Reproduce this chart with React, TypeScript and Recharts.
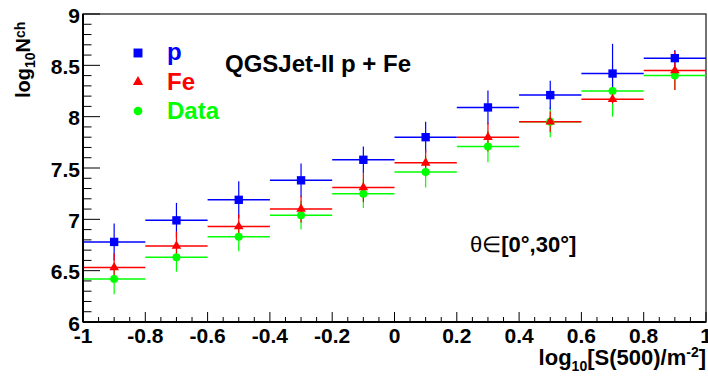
import {
  ScatterChart,
  Scatter,
  XAxis,
  YAxis,
  ErrorBar,
  ReferenceArea,
  Legend,
  Symbols,
} from "recharts";

// bins in log10[S(500)]
const binCenters = [-0.9, -0.7, -0.5, -0.3, -0.1, 0.1, 0.3, 0.5, 0.7, 0.9];
const binHalfWidth = 0.1;

// proton simulation
const pValues = [6.78, 6.99, 7.19, 7.38, 7.58, 7.8, 8.09, 8.21, 8.42, 8.57];
const pErrors = [0.18, 0.17, 0.18, 0.165, 0.13, 0.15, 0.165, 0.14, 0.29, 0.08];

// iron simulation
const feValues = [6.53, 6.74, 6.93, 7.1, 7.31, 7.55, 7.8, 7.95, 8.17, 8.45];
const feErrors = [0.14, 0.14, 0.12, 0.13, 0.14, 0.13, 0.14, 0.1, 0.04, 0.19];

// measured
const dataValues = [6.42, 6.63, 6.83, 7.04, 7.25, 7.46, 7.71, 7.95, 8.25, 8.4];
const dataErrors = [0.15, 0.14, 0.14, 0.14, 0.14, 0.15, 0.155, 0.15, 0.25, 0.14];

const xDomain = [-1, 1];
const yDomain = [6, 9];
const xMajorTicks = [-1, -0.8, -0.6, -0.4, -0.2, 0, 0.2, 0.4, 0.6, 0.8, 1];
const xTickLabels = ["-1", "-0.8", "-0.6", "-0.4", "-0.2", "0", "0.2", "0.4", "0.6", "0.8", "1"];
const yMajorTicks = [6, 6.5, 7, 7.5, 8, 8.5, 9];
const yTickLabels = ["6", "6.5", "7", "7.5", "8", "8.5", "9"];

const BLUE = "#0000ff";
const RED = "#ff0000";
const GREEN = "#00ff00";
const FONT = "'Liberation Sans', Arial, Helvetica, sans-serif";

const makePoints = (vals: number[], errs: number[]) =>
  binCenters.map((x, i) => ({ x, y: vals[i], ex: binHalfWidth, ey: errs[i] }));

const pPoints = makePoints(pValues, pErrors);
const fePoints = makePoints(feValues, feErrors);
const dataPoints = makePoints(dataValues, dataErrors);

// minor ticks: 4 divisions on x, 5 on y
const xAllTicks: number[] = [];
for (let i = 0; i <= 40; i++) xAllTicks.push(Math.round((-1 + i * 0.05) * 100) / 100);
const yAllTicks: number[] = [];
for (let i = 0; i <= 30; i++) yAllTicks.push(Math.round((6 + i * 0.1) * 10) / 10);

const majorIndex = (list: number[], v: number) =>
  list.findIndex((m) => Math.abs(m - v) < 1e-6);

const XTick = (props: any) => {
  const { x, y, payload } = props;
  const idx = majorIndex(xMajorTicks, payload.value);
  const major = idx >= 0;
  return (
    <g>
      <line x1={x} x2={x} y1={y} y2={y - (major ? 10 : 5)} stroke="#000" strokeWidth={1} />
      {major && (
        <text x={x} y={y + 21} textAnchor="middle" fontFamily={FONT} fontWeight="bold" fontSize={21} fill="#000">
          {xTickLabels[idx]}
        </text>
      )}
    </g>
  );
};

const YTick = (props: any) => {
  const { x, y, payload } = props;
  const idx = majorIndex(yMajorTicks, payload.value);
  const major = idx >= 0;
  return (
    <g>
      <line x1={x} x2={x + (major ? 17 : 8.5)} y1={y} y2={y} stroke="#000" strokeWidth={1} />
      {major && (
        <text x={x - 3} y={y + 8.5} textAnchor="end" fontFamily={FONT} fontWeight="bold" fontSize={21} fill="#000">
          {yTickLabels[idx]}
        </text>
      )}
    </g>
  );
};

const markerShape = (type: "square" | "triangle" | "circle", size: number, color: string) =>
  (props: any) => <Symbols cx={props.cx} cy={props.cy} type={type} size={size} fill={color} />;

const legendRows = [
  { name: "p", type: "square" as const, color: BLUE, size: 80 },
  { name: "Fe", type: "triangle" as const, color: RED, size: 45 },
  { name: "Data", type: "circle" as const, color: GREEN, size: 60 },
];

const LegendBox = () => (
  <svg width={130} height={100}>
    {legendRows.map((r, i) => (
      <g key={r.name}>
        <Symbols cx={18} cy={18 + i * 29} type={r.type} size={r.size} fill={r.color} />
        <text x={47} y={25 + i * 29.5} fontFamily={FONT} fontWeight="bold" fontSize={24} fill={r.color}>
          {r.name}
        </text>
      </g>
    ))}
  </svg>
);

export default function App() {
  return (
    <div style={{ position: "absolute", left: 0, top: 0, width: 708, height: 381, background: "#fff" }}>
      <ScatterChart width={708} height={381} margin={{ top: 14, right: 2, bottom: 58, left: 82 }}>
        <ReferenceArea
          x1={xDomain[0]}
          x2={xDomain[1]}
          y1={yDomain[0]}
          y2={yDomain[1]}
          fill="none"
          fillOpacity={0}
          stroke="#444"
          strokeWidth={1.5}
        />
        <XAxis
          type="number"
          dataKey="x"
          domain={xDomain}
          allowDataOverflow
          ticks={xAllTicks}
          interval={0}
          height={1}
          tickSize={0}
          tickMargin={0}
          tickLine={false}
          axisLine={{ stroke: "#000", strokeWidth: 2 }}
          tick={<XTick />}
        />
        <YAxis
          type="number"
          dataKey="y"
          domain={yDomain}
          allowDataOverflow
          ticks={yAllTicks}
          interval={0}
          width={1}
          tickSize={0}
          tickMargin={0}
          tickLine={false}
          axisLine={{ stroke: "#000", strokeWidth: 2 }}
          tick={<YTick />}
        />
        <Scatter data={dataPoints} isAnimationActive={false} shape={markerShape("circle", 50, GREEN)}>
          <ErrorBar dataKey="ex" direction="x" width={0} stroke={GREEN} strokeWidth={1.5} isAnimationActive={false} />
          <ErrorBar dataKey="ey" direction="y" width={0} stroke={GREEN} strokeWidth={1.2} isAnimationActive={false} />
        </Scatter>
        <Scatter data={pPoints} isAnimationActive={false} shape={markerShape("square", 70, BLUE)}>
          <ErrorBar dataKey="ex" direction="x" width={0} stroke={BLUE} strokeWidth={1.5} isAnimationActive={false} />
          <ErrorBar dataKey="ey" direction="y" width={0} stroke={BLUE} strokeWidth={1.2} isAnimationActive={false} />
        </Scatter>
        <Scatter data={fePoints} isAnimationActive={false} shape={markerShape("triangle", 40, RED)}>
          <ErrorBar dataKey="ex" direction="x" width={0} stroke={RED} strokeWidth={1.5} isAnimationActive={false} />
          <ErrorBar dataKey="ey" direction="y" width={0} stroke={RED} strokeWidth={1.2} isAnimationActive={false} />
        </Scatter>
        <Legend
          layout="vertical"
          align="center"
          verticalAlign="middle"
          wrapperStyle={{ position: "absolute", left: 120, top: 35, width: 130, height: 100 }}
          content={() => <LegendBox />}
        />
        <text x={225} y={71.5} fontFamily={FONT} fontWeight="bold" fontSize={24} fill="#000">
          QGSJet-II p + Fe
        </text>
        <text x={470} y={251.5} fontFamily={FONT} fontSize={22} fill="#000">
          <tspan>θ∈</tspan>
          <tspan fontWeight="bold">[0°,30°]</tspan>
        </text>
        <text
          x={30}
          y={98}
          transform="rotate(-90, 30, 98)"
          fontFamily={FONT}
          fontWeight="bold"
          fontSize={20}
          fill="#000"
        >
          <tspan>log</tspan>
          <tspan fontSize={14} dy={5}>10</tspan>
          <tspan dy={-5}>N</tspan>
          <tspan fontSize={14} dy={-5}>ch</tspan>
        </text>
        <text x={706} y={365} textAnchor="end" fontFamily={FONT} fontWeight="bold" fontSize={22} fill="#000">
          <tspan>log</tspan>
          <tspan fontSize={14} dy={6}>10</tspan>
          <tspan dy={-6}>[S(500)/m</tspan>
          <tspan fontSize={14} dy={-8}>-2</tspan>
          <tspan dy={8}>]</tspan>
        </text>
      </ScatterChart>
    </div>
  );
}
